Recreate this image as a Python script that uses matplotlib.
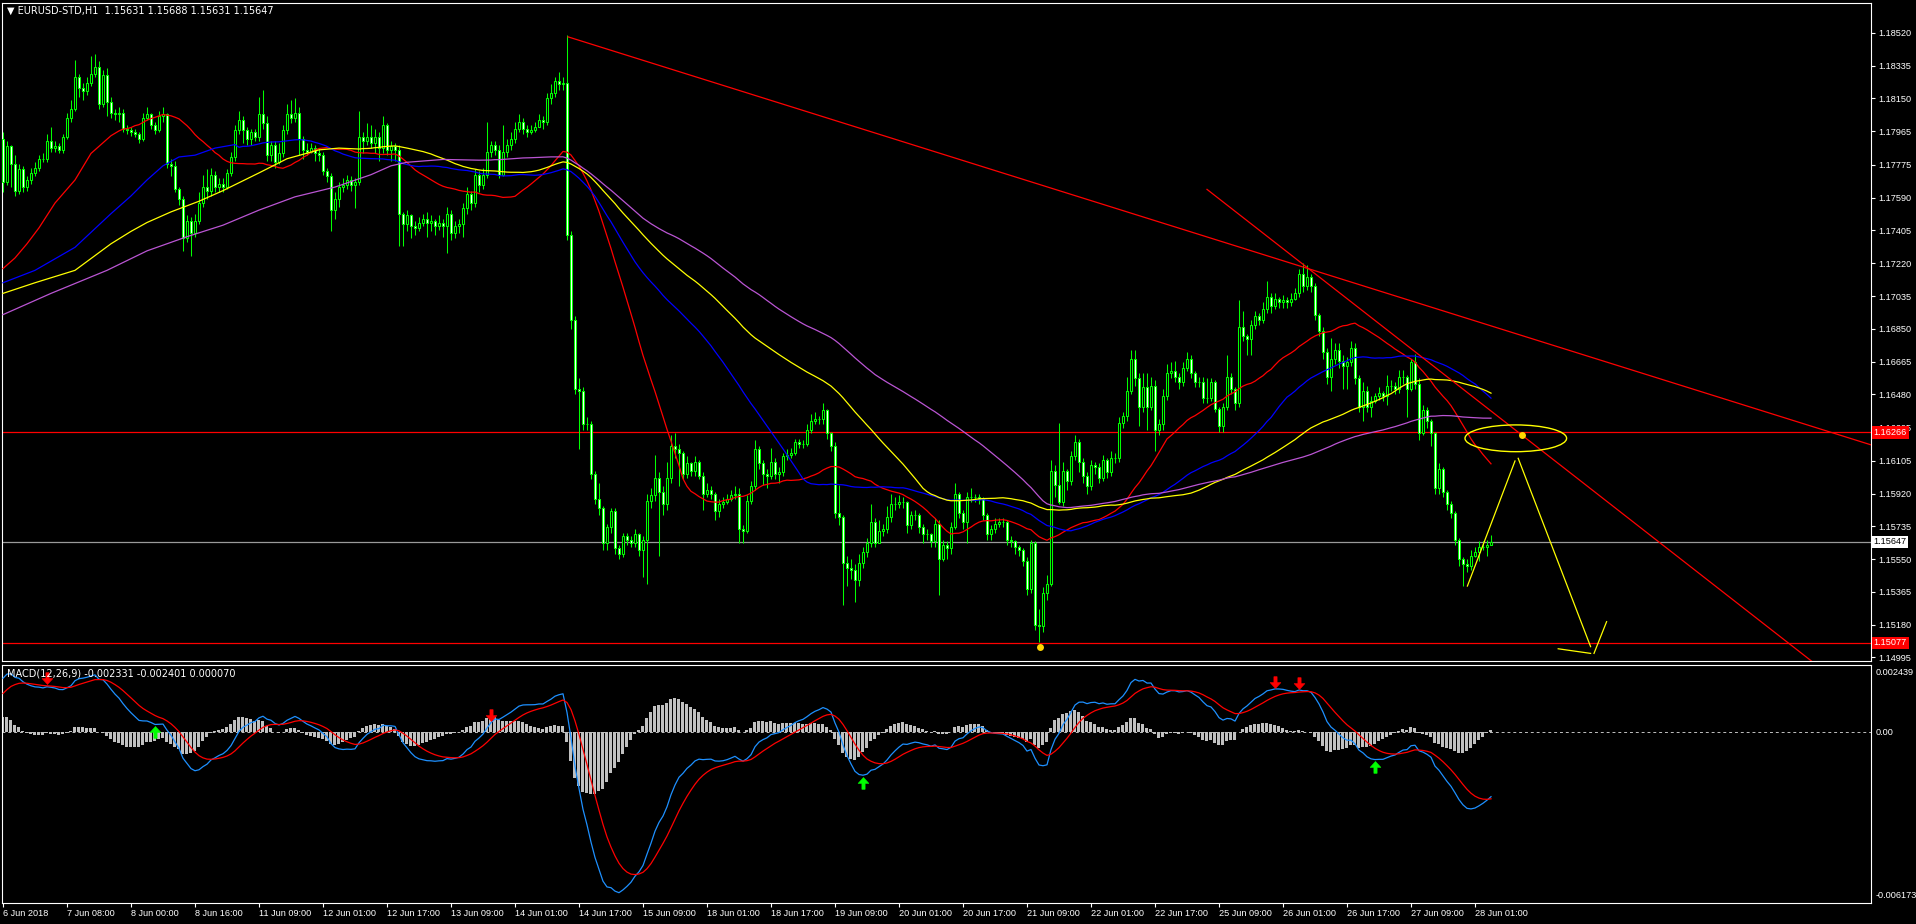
import numpy as np
import pandas as pd
import matplotlib
matplotlib.use("Agg")
import matplotlib.pyplot as plt
import matplotlib.transforms as mtransforms
from matplotlib.path import Path
from matplotlib.patches import Ellipse

plt.rcParams['font.family'] = ['Liberation Sans', 'DejaVu Sans']

# ---------------- data (prices stored as pips above BASE) ----------------
BASE = 1.15000
PIP = 0.0001
OPEN0 = 292

closes = [
    268, 288, 278, 263, 275, 265, 269, 273, 276, 281,
    281, 291, 287, 288, 286, 293, 304, 309, 327, 321,
    319, 324, 329, 333, 312, 328, 313, 307, 306, 307,
    298, 297, 296, 295, 292, 304, 306, 300, 297, 305,
    306, 278, 277, 264, 258, 236, 246, 239, 246, 256,
    265, 263, 272, 265, 267, 265, 273, 282, 297, 303,
    297, 292, 296, 293, 306, 301, 283, 289, 279, 284,
    297, 306, 304, 307, 292, 286, 285, 287, 284, 283,
    274, 271, 252, 258, 265, 266, 269, 266, 268, 293,
    291, 293, 290, 293, 287, 300, 286, 288, 286, 250,
    244, 249, 243, 242, 245, 247, 245, 246, 243, 245,
    243, 250, 239, 243, 244, 253, 261, 256, 272, 266,
    272, 285, 289, 286, 272, 285, 289, 292, 298, 302,
    298, 296, 297, 299, 303, 302, 315, 318, 325, 323,
    324, 238, 190, 151, 150, 131, 131, 103, 89, 84,
    64, 73, 82, 61, 58, 68, 66, 64, 69, 60,
    66, 88, 91, 101, 93, 86, 101, 119, 117, 115,
    103, 109, 105, 110, 102, 92, 94, 92, 82, 86,
    87, 89, 91, 92, 72, 71, 88, 96, 117, 109,
    103, 102, 110, 103, 104, 113, 114, 115, 121, 120,
    120, 128, 133, 134, 134, 139, 126, 119, 81, 79,
    53, 50, 49, 43, 53, 59, 64, 76, 64, 71,
    72, 79, 86, 86, 87, 87, 74, 80, 80, 73,
    69, 69, 65, 75, 55, 63, 61, 73, 92, 81,
    76, 90, 90, 90, 89, 80, 69, 72, 75, 76,
    76, 66, 65, 62, 60, 54, 38, 64, 18, 17,
    36, 41, 105, 97, 87, 105, 99, 113, 121, 110,
    102, 96, 108, 107, 101, 111, 104, 112, 112, 132,
    136, 150, 168, 157, 141, 152, 141, 153, 128, 131,
    147, 160, 161, 158, 155, 163, 168, 160, 155, 155,
    146, 146, 155, 140, 130, 141, 158, 151, 143, 186,
    181, 179, 187, 192, 190, 196, 203, 198, 202, 200,
    201, 200, 202, 205, 216, 209, 214, 209, 193, 184,
    172, 158, 168, 173, 167, 164, 166, 174, 157, 141,
    150, 141, 144, 147, 149, 147, 153, 153, 151, 158,
    158, 151, 166, 154, 126, 139, 133, 126, 95, 106,
    93, 86, 81, 66, 55, 52, 51, 57, 59, 62,
    62, 63.1, 64.7,
]

highs = [
    296, 291, 289, 283, 278, 277, 271, 276, 279, 283,
    284, 295, 299, 291, 290, 295, 307, 314, 337, 329,
    324, 327, 339, 340, 336, 331, 332, 316, 309, 310,
    309, 300, 299, 298, 296, 307, 310, 307, 302, 308,
    310, 307, 281, 280, 265, 260, 249, 248, 250, 262,
    272, 275, 276, 274, 270, 270, 275, 285, 300, 308,
    305, 299, 298, 298, 316, 320, 305, 291, 291, 290,
    300, 312, 314, 315, 310, 294, 290, 290, 289, 287,
    285, 276, 273, 262, 268, 270, 272, 271, 270, 308,
    296, 301, 300, 298, 296, 305, 301, 291, 290, 289,
    251, 252, 250, 246, 248, 250, 251, 249, 247, 249,
    247, 254, 252, 246, 247, 256, 265, 263, 275, 274,
    276, 302, 291, 291, 289, 300, 292, 296, 302, 306,
    304, 300, 300, 302, 306, 305, 318, 323, 327, 330,
    327, 351, 240, 192, 157, 152, 135, 133, 105, 98,
    85, 75, 84, 84, 63, 70, 70, 68, 72, 70,
    68, 92, 95, 114, 104, 96, 110, 125, 126, 120,
    116, 113, 110, 113, 111, 104, 98, 96, 93, 89,
    90, 92, 94, 96, 95, 74, 91, 99, 122, 119,
    111, 106, 118, 112, 107, 115, 117, 118, 123, 123,
    122, 131, 137, 138, 136, 143, 140, 127, 121, 97,
    80, 57, 55, 52, 58, 62, 67, 86, 78, 77,
    75, 85, 92, 90, 91, 90, 88, 82, 83, 81,
    75, 72, 70, 78, 77, 66, 65, 76, 98, 93,
    83, 93, 95, 92, 92, 90, 81, 74, 78, 78,
    78, 77, 68, 66, 63, 61, 56, 66, 65, 27,
    39, 46, 111, 108, 132, 110, 106, 116, 125, 123,
    112, 104, 111, 110, 109, 114, 112, 116, 115, 135,
    138, 158, 173, 173, 160, 160, 160, 158, 156, 134,
    151, 165, 166, 167, 160, 166, 172, 170, 161, 158,
    158, 157, 157, 156, 141, 143, 170, 160, 152, 201,
    195, 182, 190, 195, 194, 200, 212, 205, 205, 203,
    204, 203, 205, 208, 219, 222, 221, 216, 211, 194,
    186, 174, 180, 177, 177, 170, 169, 178, 177, 159,
    155, 153, 147, 149, 152, 150, 159, 156, 155, 162,
    162, 159, 168, 171, 157, 142, 141, 134, 127, 109,
    107, 94, 88, 82, 67, 56, 55, 60, 62, 65,
    65, 66, 68.8,
]

lows = [
    262, 266, 265, 260, 261, 262, 263, 267, 271, 274,
    279, 279, 285, 285, 284, 284, 292, 302, 308, 316,
    314, 317, 322, 327, 309, 310, 305, 304, 303, 302,
    296, 295, 294, 293, 290, 291, 303, 298, 295, 296,
    302, 276, 271, 262, 255, 229, 234, 226, 237, 244,
    254, 258, 260, 262, 262, 262, 264, 271, 280, 295,
    290, 289, 289, 291, 291, 298, 280, 280, 276, 278,
    282, 295, 301, 302, 283, 281, 283, 284, 280, 280,
    272, 268, 240, 247, 254, 262, 264, 263, 253, 266,
    284, 289, 287, 284, 280, 284, 283, 280, 280, 232,
    232, 240, 236, 238, 240, 243, 237, 240, 238, 241,
    237, 228, 235, 236, 239, 237, 250, 252, 254, 262,
    264, 270, 282, 283, 270, 271, 282, 286, 290, 296,
    295, 293, 295, 296, 299, 298, 300, 312, 316, 320,
    320, 235, 185, 148, 117, 128, 128, 100, 86, 80,
    60, 60, 70, 58, 55, 56, 63, 62, 62, 57,
    45, 41, 84, 88, 57, 80, 83, 98, 112, 96,
    100, 101, 102, 102, 100, 83, 90, 89, 77, 79,
    84, 86, 88, 89, 64, 64, 70, 86, 94, 106,
    97, 95, 100, 100, 98, 102, 111, 112, 114, 118,
    118, 119, 126, 131, 131, 131, 123, 116, 78, 74,
    29, 40, 44, 31, 40, 50, 56, 62, 62, 66,
    68, 70, 76, 83, 84, 84, 70, 72, 77, 70,
    64, 66, 62, 62, 35, 54, 55, 58, 72, 78,
    72, 64, 87, 87, 86, 77, 66, 66, 70, 73,
    73, 63, 62, 58, 57, 51, 35, 36, 15, 8,
    14, 32, 40, 90, 86, 85, 94, 97, 111, 104,
    98, 92, 94, 103, 98, 99, 101, 102, 109, 110,
    129, 133, 148, 153, 130, 138, 128, 139, 116, 125,
    128, 145, 157, 155, 151, 153, 161, 157, 152, 152,
    143, 143, 144, 138, 127, 127, 139, 148, 139, 141,
    178, 170, 170, 185, 187, 188, 194, 194, 196, 197,
    197, 197, 198, 201, 203, 206, 207, 206, 190, 181,
    168, 154, 150, 165, 163, 151, 151, 164, 154, 138,
    133, 138, 135, 143, 145, 144, 142, 150, 148, 149,
    154, 135, 150, 151, 122, 125, 129, 119, 92, 92,
    90, 83, 78, 63, 51, 40, 48, 49, 56, 54,
    60, 57, 63.1,
]
LAST_OPEN = 63.1

# moving averages (SMA periods) and their early values
MA_PERIODS = {'red': 30, 'blue': 60, 'yellow': 90, 'purple': 120}
red_early_bars = [0, 3, 6, 9, 13, 18, 22, 27]
red_early_vals = [219, 225, 233, 242, 256, 269, 284, 294]
blue_early_bars = [0, 8, 18, 27, 32, 36, 40, 44, 48, 53, 58]
blue_early_vals = [211, 218, 231, 250, 260, 269, 277, 282, 283, 287, 289]
yellow_early_bars = [0, 8, 18, 27, 32, 36, 42, 49, 55, 64, 71, 79, 84]
yellow_early_vals = [205, 211, 218, 233, 240, 245, 251, 257, 263, 273, 281, 286, 287]
purple_early_bars = [0, 12, 26, 36, 46, 55, 64, 73, 83, 92, 97, 101, 110]
purple_early_vals = [193, 205, 218, 229, 237, 243.5, 252, 259.5, 265, 272, 277, 279, 280.6]

# MACD state at the first bar
EMA12_SEED = 1.17510
EMA26_SEED = 1.17314
SIGNAL_SEED = 0.00141

# price axis ticks
price_ticks = [1.18520, 1.18335, 1.18150, 1.17965, 1.17775, 1.17590, 1.17405,
               1.17220, 1.17035, 1.16850, 1.16665, 1.16480, 1.16295, 1.16105,
               1.15920, 1.15735, 1.15550, 1.15365, 1.15180, 1.14995]
date_labels = ["6 Jun 2018", "7 Jun 08:00", "8 Jun 00:00", "8 Jun 16:00",
               "11 Jun 09:00", "12 Jun 01:00", "12 Jun 17:00", "13 Jun 09:00",
               "14 Jun 01:00", "14 Jun 17:00", "15 Jun 09:00", "18 Jun 01:00",
               "18 Jun 17:00", "19 Jun 09:00", "20 Jun 01:00", "20 Jun 17:00",
               "21 Jun 09:00", "22 Jun 01:00", "22 Jun 17:00", "25 Jun 09:00",
               "26 Jun 01:00", "26 Jun 17:00", "27 Jun 09:00", "28 Jun 01:00"]
date_label_bars = list(range(0, 16 * len(date_labels), 16))

# drawn objects
hline_levels = [1.16266, 1.15077]
bid_level = 1.15647
trend1 = ([141.25, 467.0], [1.18498, 1.16195])
trend2 = ([301.0, 455.0], [1.17637, 1.14924])
ellipse_center = (378.2, 1.16232)
ellipse_size = (25.4, 0.00151)
yellow_dots = ([259.25, 379.7], [1.15056, 1.16253])
yellow_paths = [
    ([366.1, 378.0], [1.15398, 1.16104]),
    ([378.8, 396.9], [1.16119, 1.15056]),
    ([388.8, 396.9], [1.15044, 1.15018]),
    ([397.75, 400.9], [1.15018, 1.15197]),
]
macd_down_arrow_bars = [11, 122, 318, 324]
macd_up_arrow_bars = [38, 215, 343]

# ---------------- computations ----------------
c = BASE + np.array(closes, dtype=float) * PIP
h = BASE + np.array(highs, dtype=float) * PIP
l = BASE + np.array(lows, dtype=float) * PIP
o = np.concatenate([[BASE + OPEN0 * PIP], c[:-1]])
o[-1] = BASE + LAST_OPEN * PIP
n = len(c)
x = np.arange(n)

early = {
    'red': (red_early_bars, red_early_vals),
    'blue': (blue_early_bars, blue_early_vals),
    'yellow': (yellow_early_bars, yellow_early_vals),
    'purple': (purple_early_bars, purple_early_vals),
}
ma_colors = {'red': '#FF0000', 'blue': '#0000FF', 'yellow': '#FFFF00', 'purple': '#BA55D3'}

cs = pd.Series(c)
a12, a26, a9 = 2 / 13, 2 / 27, 2 / 10
e12 = np.empty(n); e26 = np.empty(n); sig = np.empty(n)
e12[0], e26[0] = EMA12_SEED, EMA26_SEED
for i in range(1, n):
    e12[i] = e12[i - 1] + a12 * (c[i] - e12[i - 1])
    e26[i] = e26[i - 1] + a26 * (c[i] - e26[i - 1])
macd = e12 - e26
sig[0] = SIGNAL_SEED
for i in range(1, n):
    sig[i] = sig[i - 1] + a9 * (macd[i] - sig[i - 1])
hist = macd - sig

# ---------------- figure ----------------
W, H = 1916, 924
fig = plt.figure(figsize=(W / 100, H / 100), dpi=100, facecolor='black')
ax = fig.add_axes([2 / W, 1 - 661 / H, 1869 / W, 658 / H], facecolor='black')
axm = fig.add_axes([2 / W, 1 - 903 / H, 1869 / W, 238 / H], facecolor='black')

FS = 6.6
for a in (ax, axm):
    a.set_xlim(-0.25, 467.0)
    for s in a.spines.values():
        s.set_color('white')
        s.set_linewidth(0.8)

ax.set_ylim(1.14975, 1.18689)
axm.set_ylim(-0.006173, 0.002439)

# horizontal lines
for lv in hline_levels:
    ax.axhline(lv, color='#FF0000', lw=0.9, zorder=1)
ax.axhline(bid_level, color='#9A9A9A', lw=0.9, zorder=1)

# candles
ax.vlines(x, np.minimum(l, np.minimum(o, c)), np.maximum(h, np.maximum(o, c)),
          color='#00FF00', lw=0.75, zorder=2)
bull = c >= o
body_lo = np.minimum(o, c)
body_h = np.abs(c - o)
ax.bar(x[bull], body_h[bull], bottom=body_lo[bull], width=0.5,
       facecolor='black', edgecolor='#00FF00', linewidth=0.75, zorder=3)
ax.bar(x[~bull], body_h[~bull], bottom=body_lo[~bull], width=0.5,
       facecolor='white', edgecolor='#00FF00', linewidth=0.75, zorder=3)

# moving averages
for name, per in MA_PERIODS.items():
    sma = cs.rolling(per).mean().to_numpy()
    eb, ev = early[name]
    xs = list(eb) + list(range(per - 1, n))
    ys = list(BASE + np.array(ev) * PIP) + list(sma[per - 1:])
    ax.plot(xs, ys, color=ma_colors[name], lw=0.9, zorder=4)

# drawn objects
ax.plot(*trend1, color='#FF0000', lw=0.9, zorder=5)
ax.plot(*trend2, color='#FF0000', lw=0.9, zorder=5)
ax.add_patch(Ellipse(ellipse_center, ellipse_size[0], ellipse_size[1],
                     fill=False, edgecolor='#FFFF00', lw=1.0, zorder=6))
for xs_, ys_ in yellow_paths:
    ax.plot(xs_, ys_, color='#FFFF00', lw=0.9, zorder=6)
ax.plot(*yellow_dots, 'o', color='#FFD700', ms=5, zorder=7, mec='none')

# price axis
ax.yaxis.tick_right()
ax.set_yticks(price_ticks)
ax.set_yticklabels([f"{v:.5f}" for v in price_ticks])
ax.tick_params(axis='y', colors='white', labelcolor='white', labelsize=FS,
               length=3, width=0.8, pad=2, direction='out')
ax.set_xticks([])

btr = mtransforms.blended_transform_factory(ax.transAxes, ax.transData)
for lv, fc, tc in [(hline_levels[0], '#FF0000', 'white'), (bid_level, 'white', 'black'),
                   (hline_levels[1], '#FF0000', 'white')]:
    ax.text(1.0013, lv, f"{lv:.5f}", transform=btr, ha='left', va='center',
            fontsize=FS, color=tc, zorder=10,
            bbox=dict(boxstyle='square,pad=0.2', fc=fc, ec='none'))

# MACD panel
axm.axhline(0, color='#C0C0C0', lw=0.7, ls=(0, (3, 3)), zorder=0)
axm.bar(x, hist, width=0.75, color='#C0C0C0', zorder=1)
axm.plot(x, macd, color='#1E90FF', lw=0.9, zorder=3)
axm.plot(x, sig, color='#FF0000', lw=0.9, zorder=3)

down_path = Path([(-0.3, 2.2), (0.3, 2.2), (0.3, 1.1), (1.0, 1.1), (0, 0),
                  (-1.0, 1.1), (-0.3, 1.1), (-0.3, 2.2)],
                 [Path.MOVETO] + [Path.LINETO] * 6 + [Path.CLOSEPOLY])
up_path = Path([(vx, -vy) for vx, vy in down_path.vertices], down_path.codes)
db = np.array(macd_down_arrow_bars)
ub = np.array(macd_up_arrow_bars)
axm.plot(db, np.maximum(macd[db], sig[db]) + 0.00005, ls='none', marker=down_path, ms=17,
         mfc='#FF0000', mec='#FF0000', mew=0.4, zorder=5)
axm.plot(ub, np.minimum(macd[ub], sig[ub]) - 0.00005, ls='none', marker=up_path, ms=17,
         mfc='#00FF00', mec='#00FF00', mew=0.4, zorder=5)

axm.set_yticks([])
mtr = mtransforms.blended_transform_factory(axm.transAxes, axm.transData)
axm.text(1.0025, 0.002439 - 0.00012, "0.002439", transform=mtr, ha='left', va='top',
         fontsize=FS, color='white')
axm.text(1.0025, 0.0, "0.00", transform=mtr, ha='left', va='center',
         fontsize=FS, color='white')
axm.text(1.0025, -0.006173 + 0.00012, "-0.006173", transform=mtr, ha='left', va='bottom',
         fontsize=FS, color='white')

axm.set_xticks(date_label_bars)
axm.set_xticklabels(date_labels)
axm.tick_params(axis='x', colors='white', labelcolor='white', labelsize=FS,
                length=3, width=0.8, pad=1.5, direction='out')
for lbl in axm.get_xticklabels():
    lbl.set_ha('left')

# header texts
fig.text(7 / W, 1 - 11 / H, "\u25BC EURUSD-STD,H1  1.15631 1.15688 1.15631 1.15647",
         fontsize=7, color='white', va='center', ha='left',
         family=['DejaVu Sans'])
fig.text(7 / W, 1 - 674 / H, "MACD(12,26,9) -0.002331 -0.002401 0.000070",
         fontsize=7, color='white', va='center', ha='left', family=['DejaVu Sans'])

fig.savefig("out.png", dpi=100, facecolor='black')
